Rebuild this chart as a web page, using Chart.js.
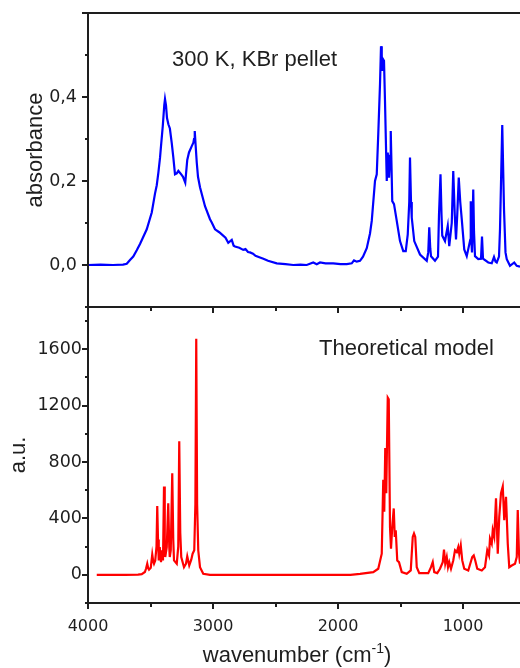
<!DOCTYPE html>
<html>
<head>
<meta charset="utf-8">
<script src="https://cdn.jsdelivr.net/npm/chart.js@4.4.1/dist/chart.umd.min.js"></script>
<style>
  html, body { margin: 0; padding: 0; background: #fff; }
  #wrap { position: relative; width: 520px; height: 668px; }
  #botBox { position: absolute; left: 0; top: 307px; width: 520px; height: 361px; }
  #topBox { position: absolute; left: 0; top: 0; width: 520px; height: 320px; }
</style>
</head>
<body>
<div id="wrap">
  <div id="botBox"><canvas id="theoryChart"></canvas></div>
  <div id="topBox"><canvas id="expChart"></canvas></div>
</div>
<script>
// Espectro experimental (300 K, pastilla de KBr)
const expWavenumber = [
  4000, 3900, 3800, 3720, 3690, 3664, 3638, 3610, 3584, 3530,
  3490, 3464, 3450, 3437, 3424, 3416, 3402, 3390, 3384, 3376,
  3368, 3357, 3345, 3330, 3317, 3304, 3290, 3277, 3260, 3240,
  3222, 3206, 3192, 3170, 3157, 3152, 3146, 3140, 3130, 3120,
  3104, 3064, 3024, 3010, 2984, 2950, 2930, 2900, 2878, 2850,
  2835, 2824, 2790, 2758, 2740, 2720, 2704, 2680, 2660, 2624,
  2597, 2560, 2490, 2420, 2358, 2300, 2250, 2198, 2170, 2144,
  2100, 2038, 1980, 1930, 1890, 1872, 1850, 1824, 1800, 1770,
  1744, 1730, 1704, 1690, 1678, 1664, 1656, 1650, 1646, 1640,
  1632, 1624, 1610, 1602, 1592, 1584, 1578, 1570, 1566, 1552,
  1530, 1504, 1478, 1458, 1442, 1430, 1424, 1416, 1410, 1390,
  1344, 1290, 1278, 1270, 1262, 1256, 1224, 1200, 1192, 1180,
  1172, 1166, 1144, 1122, 1110, 1090, 1078, 1066, 1056, 1046,
  1034, 1022, 1010, 990, 970, 942, 938, 932, 928, 918,
  912, 904, 878, 856, 848, 840, 798, 770, 752, 740,
  730, 712, 704, 686, 672, 660, 650, 624, 590, 570,
  544
];
const expAbsorbance = [
  0, 0.001, 0, 0.001, 0.003, 0.012, 0.02, 0.035, 0.05, 0.085,
  0.125, 0.17, 0.19, 0.22, 0.255, 0.283, 0.33, 0.38, 0.395, 0.38,
  0.35, 0.335, 0.325, 0.29, 0.255, 0.216, 0.218, 0.224, 0.218, 0.21,
  0.196, 0.25, 0.268, 0.283, 0.291, 0.3, 0.319, 0.29, 0.244, 0.21,
  0.185, 0.14, 0.109, 0.101, 0.085, 0.078, 0.073, 0.065, 0.053, 0.06,
  0.046, 0.044, 0.041, 0.036, 0.038, 0.031, 0.03, 0.027, 0.022, 0.018,
  0.015, 0.01, 0.004, 0.002, 0, 0.001, 0, 0.006, 0.002, 0.006,
  0.004, 0.004, 0.002, 0.002, 0.004, 0.011, 0.008, 0.01, 0.02, 0.04,
  0.075, 0.105, 0.2, 0.216, 0.311, 0.43, 0.521, 0.5, 0.462, 0.49,
  0.486, 0.39, 0.2, 0.268, 0.208, 0.26, 0.319, 0.208, 0.152, 0.145,
  0.105, 0.057, 0.033, 0.033, 0.073, 0.15, 0.256, 0.15, 0.113, 0.057,
  0.025, 0.01, 0.03, 0.09, 0.04, 0.021, 0.01, 0.02, 0.12, 0.216,
  0.12, 0.07, 0.057, 0.093, 0.045, 0.1, 0.224, 0.12, 0.061, 0.12,
  0.208, 0.15, 0.109, 0.037, 0.021, 0.06, 0.152, 0.05, 0.03, 0.18,
  0.08, 0.021, 0.014, 0.015, 0.068, 0.015, 0.006, 0.004, 0.019, 0.008,
  0.006, 0.02, 0.085, 0.333, 0.133, 0.03, 0.014, -0.002, 0.006, -0.002,
  -0.004
];

// Modelo teórico
const theoWavenumber = [
  3930, 3700, 3600, 3570, 3545, 3536, 3526, 3518, 3512, 3498,
  3486, 3478, 3472, 3462, 3452, 3446, 3440, 3434, 3426, 3416,
  3408, 3400, 3392, 3386, 3382, 3370, 3358, 3350, 3346, 3338,
  3326, 3318, 3312, 3290, 3278, 3270, 3262, 3254, 3232, 3216,
  3206, 3190, 3174, 3163, 3150, 3141, 3134, 3127, 3118, 3104,
  3078, 3024, 2500, 1900, 1824, 1718, 1678, 1650, 1638, 1630,
  1622, 1614, 1602, 1594, 1584, 1576, 1566, 1554, 1546, 1538,
  1526, 1512, 1490, 1450, 1418, 1402, 1392, 1382, 1370, 1350,
  1278, 1256, 1242, 1230, 1206, 1184, 1162, 1152, 1142, 1130,
  1120, 1110, 1096, 1078, 1064, 1050, 1038, 1030, 1018, 1006,
  990, 958, 926, 914, 902, 886, 850, 824, 806, 792,
  784, 770, 762, 750, 736, 722, 710, 696, 682, 670,
  656, 642, 630, 610, 584, 570, 562, 552, 544
];
const theoIntensity = [
  0, 0, 2, 5, 20, 43, 79, 45, 36, 50,
  145, 95, 79, 102, 200, 488, 250, 102, 197, 90,
  174, 102, 626, 220, 126, 197, 507, 200, 126, 174,
  721, 250, 102, 79, 200, 947, 300, 126, 54, 79,
  131, 66, 107, 150, 174, 500, 1674, 500, 174, 54,
  7, 0, 0, 0, 7, 19, 43, 150, 674, 447,
  900, 579, 1257, 1245, 340, 186, 340, 471, 269, 316,
  102, 90, 19, 7, 31, 269, 293, 269, 54, 12,
  12, 54, 90, 19, 12, 43, 90, 179, 79, 126,
  54, 90, 43, 102, 174, 161, 197, 150, 209, 102,
  43, 31, 126, 138, 102, 43, 31, 54, 174, 138,
  257, 221, 316, 269, 543, 150, 411, 579, 626, 388,
  554, 221, 54, 66, 79, 126, 459, 150, 79
];

// Ticks con etiqueta
const xTickValues = [4000, 3000, 2000, 1000];
const absTickValues = [0, 0.2, 0.4];
const auTickValues = [0, 400, 800, 1200, 1600];

const ink = '#1e1e1e';
const tickFont = { family: 'DejaVu Sans', size: 17.5 };

// Quitamos el relleno automático que Chart.js añade por las etiquetas
function fixYAxis(s) {
  s.width = 88;
  s.paddingTop = 0;
  s.paddingBottom = 0;
}
function fixXAxis(s) {
  s.height = 65;
  s.paddingLeft = 0;
  s.paddingRight = 0;
}

// Marco y marcas de los ejes (mayores y menores)
const axisFrame = {
  id: 'axisFrame',
  afterDatasetsDraw(chart, args, o) {
    const { ctx, chartArea: a, scales: { x, y } } = chart;
    ctx.save();
    ctx.strokeStyle = ink;
    ctx.lineWidth = 2;
    ctx.beginPath();
    ctx.moveTo(a.left, a.top);
    ctx.lineTo(a.left, a.bottom);
    ctx.lineTo(a.right, a.bottom);
    if (o.topLine) {
      ctx.moveTo(a.left, a.top);
      ctx.lineTo(a.right, a.top);
    }
    for (let k = Math.ceil(y.min / o.yStep - 1e-9); k * o.yStep <= y.max + 1e-9; k++) {
      const py = Math.round(y.getPixelForValue(k * o.yStep));
      const len = k % 2 === 0 ? 6 : 3;
      ctx.moveTo(a.left, py);
      ctx.lineTo(a.left - len, py);
    }
    for (let v = 4000; v >= x.min; v -= 500) {
      const px = Math.round(x.getPixelForValue(v));
      const len = v % 1000 === 0 ? 6 : 4;
      ctx.moveTo(px, a.bottom);
      ctx.lineTo(px, a.bottom + len);
    }
    ctx.stroke();
    ctx.restore();
  }
};

// Textos: anotaciones y títulos de ejes
const textLayer = {
  id: 'textLayer',
  afterDraw(chart, args, o) {
    const { ctx } = chart;
    ctx.save();
    ctx.fillStyle = ink;
    ctx.textBaseline = 'alphabetic';
    o.items.forEach(t => {
      ctx.font = t.font;
      ctx.save();
      ctx.translate(t.x, t.y);
      if (t.rotate) ctx.rotate(-Math.PI / 2);
      ctx.textAlign = t.align || 'left';
      if (t.sup) {
        // texto con superíndice: base + sup + cierre
        const w1 = ctx.measureText(t.text).width;
        ctx.font = t.supFont;
        const w2 = ctx.measureText(t.sup).width;
        ctx.font = t.font;
        const w3 = ctx.measureText(t.tail).width;
        const x0 = -(w1 + w2 + w3) / 2;
        ctx.textAlign = 'left';
        ctx.fillText(t.text, x0, 0);
        ctx.font = t.supFont;
        ctx.fillText(t.sup, x0 + w1, -9);
        ctx.font = t.font;
        ctx.fillText(t.tail, x0 + w1 + w2, 0);
      } else {
        ctx.fillText(t.text, 0, 0);
      }
      ctx.restore();
    });
    ctx.restore();
  }
};

const xScaleBase = {
  type: 'linear',
  reverse: true,
  min: 544,
  max: 4000
};

// Panel superior: espectro experimental
new Chart(document.getElementById('expChart'), {
  type: 'line',
  data: {
    datasets: [{
      data: expWavenumber.map((w, i) => ({ x: w, y: expAbsorbance[i] })),
      borderColor: '#0000ff',
      borderWidth: 2.2,
      pointRadius: 0,
      tension: 0
    }]
  },
  options: {
    responsive: true,
    maintainAspectRatio: false,
    animation: false,
    devicePixelRatio: 1,
    layout: { padding: { top: 13, right: 0, bottom: 13, left: 0 } },
    scales: {
      x: { ...xScaleBase, display: false },
      y: {
        min: -0.1,
        max: 0.6,
        afterFit: fixYAxis,
        afterBuildTicks: s => { s.ticks = absTickValues.map(v => ({ value: v })); },
        grid: { display: false, drawTicks: true, tickLength: 5 },
        border: { display: false },
        ticks: {
          padding: 6,
          color: ink,
          font: tickFont,
          autoSkip: false,
          callback: v => v.toFixed(1).replace('.', ',')
        }
      }
    },
    plugins: {
      legend: { display: false },
      tooltip: { enabled: false },
      axisFrame: { topLine: true, yStep: 0.1 },
      textLayer: {
        items: [
          { text: '300 K, KBr pellet', x: 172, y: 66, font: '22px "Liberation Sans"' },
          { text: 'absorbance', x: 42, y: 150, font: '22px "Liberation Sans"', rotate: true, align: 'center' }
        ]
      }
    }
  },
  plugins: [axisFrame, textLayer]
});

// Panel inferior: modelo teórico
new Chart(document.getElementById('theoryChart'), {
  type: 'line',
  data: {
    datasets: [{
      data: theoWavenumber.map((w, i) => ({ x: w, y: theoIntensity[i] })),
      borderColor: '#ff0000',
      borderWidth: 2.2,
      pointRadius: 0,
      tension: 0
    }]
  },
  options: {
    responsive: true,
    maintainAspectRatio: false,
    animation: false,
    devicePixelRatio: 1,
    layout: { padding: 0 },
    scales: {
      x: {
        ...xScaleBase,
        afterFit: fixXAxis,
        afterBuildTicks: s => { s.ticks = xTickValues.map(v => ({ value: v })); },
        grid: { display: false, drawTicks: true, tickLength: 5 },
        border: { display: false },
        ticks: {
          padding: 9,
          color: ink,
          autoSkip: false,
          maxRotation: 0,
          font: { family: 'DejaVu Sans', size: 16 },
          callback: v => String(v)
        }
      },
      y: {
        min: -200,
        max: 1900,
        afterFit: fixYAxis,
        afterBuildTicks: s => { s.ticks = auTickValues.map(v => ({ value: v })); },
        grid: { display: false, drawTicks: true, tickLength: 5 },
        border: { display: false },
        ticks: { padding: 1, color: ink, font: tickFont, autoSkip: false, callback: v => String(v) }
      }
    },
    plugins: {
      legend: { display: false },
      tooltip: { enabled: false },
      axisFrame: { topLine: false, yStep: 200 },
      textLayer: {
        items: [
          { text: 'Theoretical model', x: 319, y: 48, font: '22px "Liberation Sans"' },
          { text: 'a.u.', x: 25, y: 148, font: '22px "Liberation Sans"', rotate: true, align: 'center' },
          { text: 'wavenumber (cm', sup: '-1', tail: ')', x: 297, y: 355,
            font: '22px "Liberation Sans"', supFont: '14px "Liberation Sans"' }
        ]
      }
    }
  },
  plugins: [axisFrame, textLayer]
});
</script>
</body>
</html>
